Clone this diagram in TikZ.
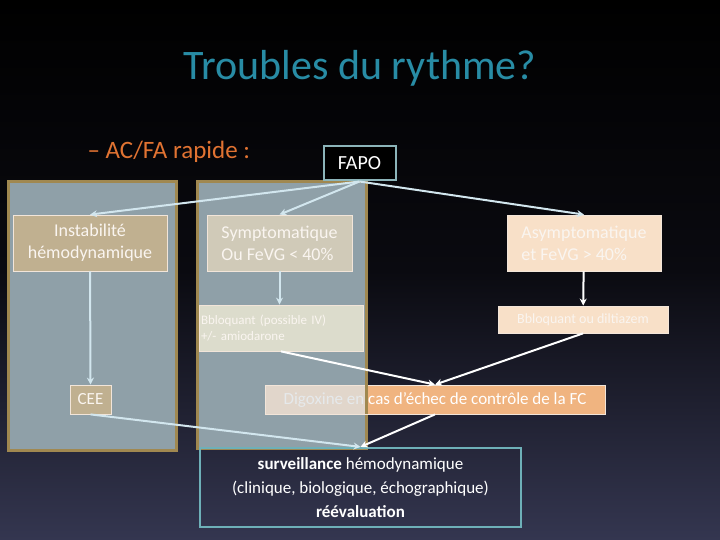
\documentclass[tikz,border=0pt]{standalone}
\usepackage{fontspec}
\setmainfont{Carlito}
\usetikzlibrary{arrows.meta}
\definecolor{bgbot}{RGB}{52,54,80}
\definecolor{bgmid}{RGB}{10,10,16}
\definecolor{gold}{RGB}{160,136,80}
\definecolor{pnlc}{RGB}{143,160,168}
\definecolor{ttl}{RGB}{40,140,165}
\definecolor{org}{RGB}{225,115,50}
\definecolor{dg}{RGB}{240,180,128}
\definecolor{fap}{RGB}{140,180,185}
\definecolor{tan}{RGB}{192,176,144}
\definecolor{sy}{RGB}{208,202,184}
\definecolor{bq}{RGB}{220,220,204}
\definecolor{pch}{RGB}{248,224,200}
\definecolor{sv}{RGB}{110,176,184}
\definecolor{arc}{RGB}{210,230,238}
\begin{document}
\begin{tikzpicture}[x=1pt,y=-1pt,
  arr/.style={draw=arc,line width=2pt,-{Stealth[length=7pt,width=7pt]}},
  bx/.style={draw=white!80!brown,line width=0.8pt,inner sep=0pt,text=white!92!brown},
  pnl/.style={fill=pnlc,draw=gold,line width=3pt}]
\shade[top color=black,bottom color=bgbot,middle color=bgmid] (0,0) rectangle (720,540);
\useasboundingbox (0,0) rectangle (720,540);
\node[text=ttl,font=\fontsize{42}{46}\selectfont] (title) at (360,68) {Troubles du rythme?};
\node[text=org,font=\fontsize{25}{28}\selectfont,anchor=west] (sub) at (84,152) {– AC/FA rapide :};
\draw[pnl] (8,182) rectangle (176,450);
\draw[pnl] (197,182) rectangle (366,448);
\node[bx,fill=dg,minimum width=340pt,minimum height=29pt,text=white,font=\fontsize{17}{20}\selectfont] (dig) at (435,399.5) {Digoxine en cas d’échec de contrôle de la FC};
\fill[white!70!pnlc,fill opacity=0.75] (265.5,385.5) rectangle (364.5,413.5);
\draw[gold,line width=3pt] (366,385) -- (366,414);
\node[draw=fap,line width=2pt,fill=black,text=white,minimum width=72pt,minimum height=34pt,inner sep=0pt,font=\fontsize{20}{22}\selectfont] (fapo) at (359.5,163.5) {FAPO};
\node[bx,fill=tan,minimum width=154pt,minimum height=56pt,align=center,font=\fontsize{18}{22}\selectfont] (inst) at (90,243) {Instabilité\\hémodynamique};
\node[bx,fill=sy,minimum width=145pt,minimum height=56pt,align=left,font=\fontsize{18}{22}\selectfont] (sym) at (279.5,243) {Symptomatique\\Ou FeVG < 40\%};
\node[bx,fill=bq,minimum width=164pt,minimum height=46pt,align=left,font=\fontsize{13}{16}\selectfont,text width=160pt] (bb1) at (281,328) {Bbloquant (possible IV)\\+/- amiodarone};
\node[bx,fill=tan,minimum width=41pt,minimum height=29pt,font=\fontsize{17}{20}\selectfont] (cee) at (90.5,399.5) {CEE};
\node[bx,fill=pch,minimum width=154pt,minimum height=56pt,align=left,font=\fontsize{18}{22}\selectfont] (asy) at (584,243) {Asymptomatique\\et FeVG > 40\%};
\node[bx,fill=pch,minimum width=170pt,minimum height=27pt,font=\fontsize{14}{16}\selectfont] (bb2) at (583,319.5) {Bbloquant ou diltiazem};
\node[draw=sv,line width=2.2pt,minimum width=321pt,minimum height=79pt,align=center,text=white,font=\fontsize{17}{24}\selectfont] (surv) at (360.5,487.5) {\textbf{surveillance} hémodynamique\\(clinique, biologique, échographique)\\\textbf{réévaluation}};
\draw[arr] (fapo.south) -- (inst.north);
\draw[arr] (fapo.south) -- (sym.north);
\draw[arr] (fapo.south) -- (asy.north);
\draw[arr] (inst) -- (cee);
\draw[arr] (sym) -- (bb1.north -| sym.south);
\draw[arr,draw=white] (asy) -- (bb2);
\draw[arr,draw=white] (bb1.south) -- (dig.north);
\draw[arr,draw=white] (bb2.south) -- (dig.north);
\draw[arr] (cee.south) -- (surv.north);
\draw[arr,draw=white] (dig.south) -- (surv.north);
\end{tikzpicture}
\end{document}
